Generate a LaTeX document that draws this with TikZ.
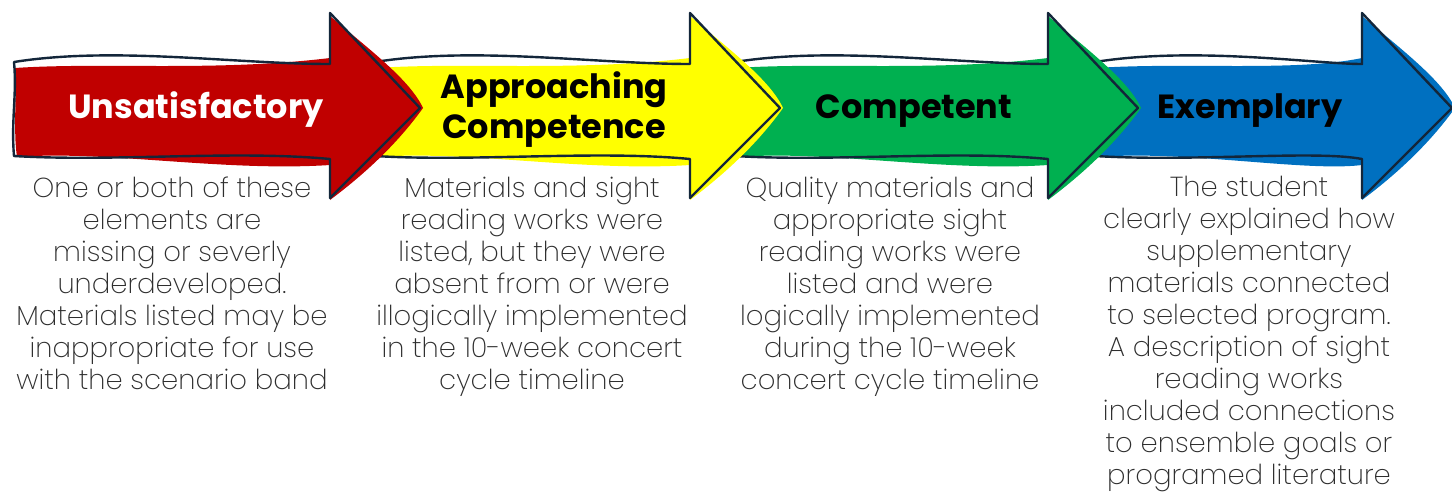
\documentclass[tikz,border=0pt]{standalone}
\usepackage{fontspec}
\setmainfont{Poppins}
\newfontfamily\titlefont{Poppins}[UprightFont={* Bold}]
\newfontfamily\descfont{Poppins}[UprightFont={* ExtraLight}]

\definecolor{unred}{HTML}{C00000}
\definecolor{apyellow}{HTML}{FFFF00}
\definecolor{cpgreen}{HTML}{00B050}
\definecolor{exblue}{HTML}{0070C0}
\definecolor{inkline}{HTML}{13263A}
\definecolor{desctext}{HTML}{2E2E2E}

\tikzset{
	sketchline/.style={draw=inkline, line width=2.4pt, line join=round},
	leveltitle/.style={font=\titlefont\fontsize{33.5}{40}\selectfont, align=center, anchor=base, inner sep=0pt},
	leveldesc/.style={font=\descfont\fontsize{27.5}{32}\selectfont, text=desctext, align=center, anchor=base, inner sep=0pt}
}

\begin{document}
\begin{tikzpicture}[x=1pt, y=-1pt]
	\useasboundingbox (0,0) rectangle (1452,491);

	%the four arrows, drawn from the right so each head lies over the next body
	\foreach \xo/\len/\col in {1095/267/exblue, 735/313/cpgreen, 375/315/apyellow, 14/316/unred}
	{
		\begin{scope}[shift={(\xo,0)}]
			\fill[\col] (1,68) .. controls (90,62) and (200,72) .. (\len,58)
				-- (\len,16) .. controls ({\len+40},50) and ({\len+80},80) .. ({\len+93},108)
				.. controls ({\len+70},140) and ({\len+40},170) .. (\len,200)
				-- (\len,165) .. controls (210,172) and (90,150) .. (3,157)
				.. controls (-1,130) and (3,95) .. cycle;
			\draw[sketchline] (0,62) .. controls (100,46) and (220,64) .. (\len,64)
				-- (\len,13) -- ({\len+90},108) -- (\len,198) -- (\len,159)
				.. controls (220,150) and (100,162) .. (0,156)
				.. controls (-3,120) and (3,95) .. cycle;
		\end{scope}
	}

	%labels in the arrows (base = last line)
	\node[leveltitle, text=white] (unsat) at (196,118) {Unsatisfactory};
	\node[leveltitle] (appr) at (554,138) {Approaching\\Competence};
	\node[leveltitle] (comp) at (914,118) {Competent};
	\node[leveltitle] (exem) at (1250,118) {Exemplary};

	%descriptions
	\node[leveldesc] (unsatdesc) at (172,389) {One or both of these\\elements are\\missing or severly\\underdeveloped.\\Materials listed may be\\inappropriate for use\\with the scenario band};
	\node[leveldesc] (apprdesc) at (532,389) {Materials and sight\\reading works were\\listed, but they were\\absent from or were\\illogically implemented\\in the 10-week concert\\cycle timeline};
	\node[leveldesc] (compdesc) at (890,389) {Quality materials and\\appropriate sight\\reading works were\\listed and were\\logically implemented\\during the 10-week\\concert cycle timeline};
	\node[leveldesc] (exemdesc) at (1249,484) {The student\\clearly explained how\\supplementary\\materials connected\\to selected program.\\A description of sight\\reading works\\included connections\\to ensemble goals or\\programed literature};

\end{tikzpicture}
\end{document}
